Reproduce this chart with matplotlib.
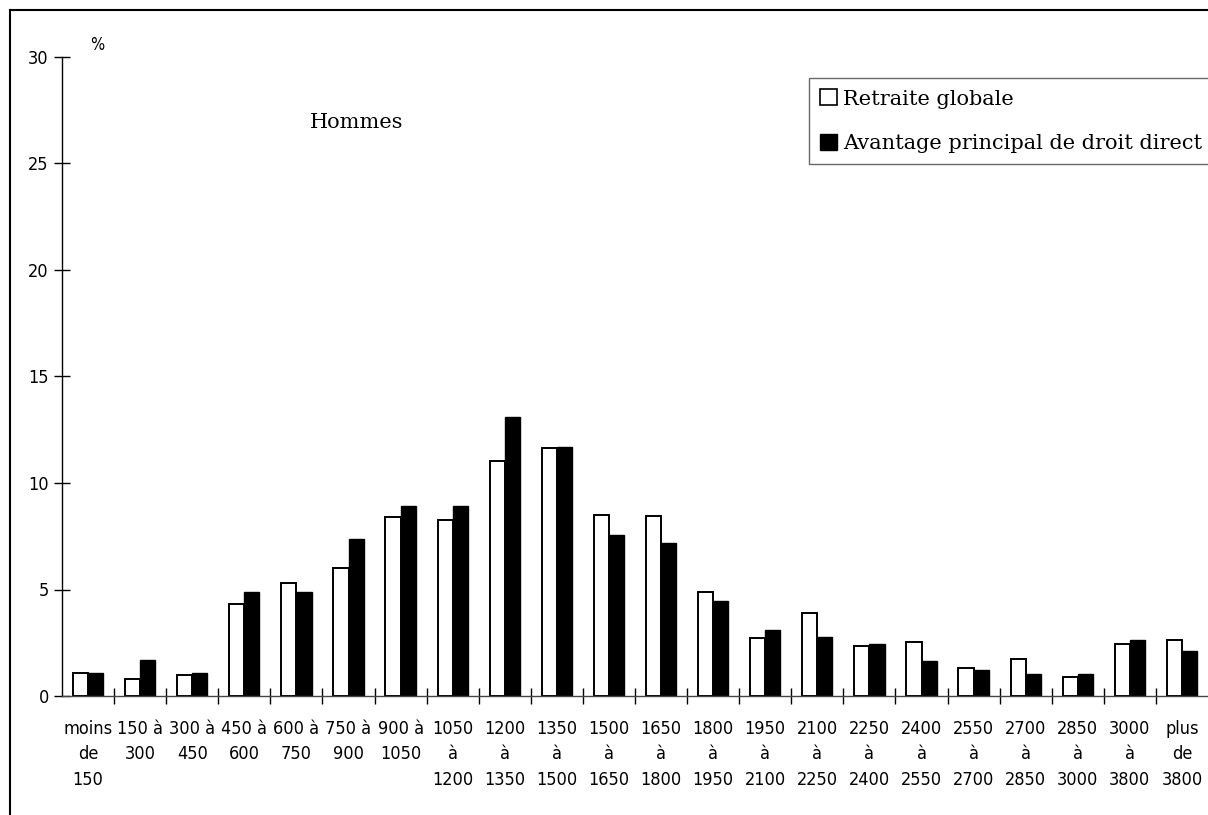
import matplotlib
matplotlib.use("Agg")
import matplotlib.pyplot as plt
import numpy as np
from matplotlib.lines import Line2D
from matplotlib.patches import Patch
from matplotlib import font_manager

# données
tranches = ["moins\nde\n150", "150 à\n300", "300 à\n450", "450 à\n600", "600 à\n750",
            "750 à\n900", "900 à\n1050", "1050\nà\n1200", "1200\nà\n1350", "1350\nà\n1500",
            "1500\nà\n1650", "1650\nà\n1800", "1800\nà\n1950", "1950\nà\n2100", "2100\nà\n2250",
            "2250\nà\n2400", "2400\nà\n2550", "2550\nà\n2700", "2700\nà\n2850", "2850\nà\n3000",
            "3000\nà\n3800", "plus\nde\n3800"]
retraite_globale = [1.1, 0.8, 1.0, 4.3, 5.3, 6.0, 8.4, 8.25, 11.05, 11.65, 8.5, 8.45,
                    4.9, 2.7, 3.9, 2.35, 2.55, 1.3, 1.75, 0.9, 2.45, 2.65]
avantage_principal = [1.1, 1.7, 1.1, 4.9, 4.9, 7.35, 8.9, 8.9, 13.1, 11.7, 7.55, 7.2,
                      4.45, 3.1, 2.75, 2.45, 1.65, 1.2, 1.05, 1.05, 2.65, 2.1]
yticks = [0, 5, 10, 15, 20, 25, 30]

# police étroite pour les graduations
narrow = font_manager.FontProperties(family="DejaVu Sans", stretch="condensed", size=13)
SERIF = ["DejaVu Serif", "Liberation Serif"]

W, H = 1208, 815
fig = plt.figure(figsize=(W / 100, H / 100), dpi=100)
ax = fig.add_axes([62 / W, 1 - 696 / H, 1 - 62 / W, (696 - 57) / H])

x = np.arange(len(tranches)) + 0.5
bw = 0.29
ax.bar(x - bw / 2, retraite_globale, width=bw, color="white", edgecolor="black", linewidth=1.4)
ax.bar(x + bw / 2, avantage_principal, width=bw, color="black", edgecolor="black", linewidth=1.0)

ax.set_xlim(0, len(tranches))
ax.set_ylim(0, 30)

for s in ["top", "right"]:
    ax.spines[s].set_visible(False)
ax.spines["left"].set_linewidth(1.0)
ax.spines["bottom"].set_linewidth(1.0)
ax.spines["bottom"].set_color("#444444")

ax.set_yticks(yticks)
ax.set_yticklabels([str(v) for v in yticks], fontproperties=narrow)
ax.tick_params(axis="y", direction="inout", length=11, width=1.0, pad=4)

ax.set_xticks(np.arange(1, len(tranches)))
ax.set_xticklabels([])
ax.tick_params(axis="x", direction="inout", length=12, width=1.0)
ax.set_xticks(x, minor=True)
ax.set_xticklabels(tranches, minor=True, fontproperties=narrow, linespacing=1.55)
ax.tick_params(axis="x", which="minor", length=0, pad=17)

pct = narrow.copy()
pct.set_size(12)
fig.text(97 / W, 1 - 45 / H, "%", fontproperties=pct, ha="center", va="center")
fig.text(310 / W, 1 - 122 / H, "Hommes", family=SERIF, fontsize=15, ha="left", va="center")

handles = [Patch(facecolor="white", edgecolor="black", linewidth=1.2),
           Patch(facecolor="black", edgecolor="black")]
leg = fig.legend(handles, ["Retraite globale", "Avantage principal de droit direct"],
                 loc="upper left", bbox_to_anchor=(809 / W, 1 - 78 / H),
                 prop={"family": SERIF, "size": 15}, frameon=True, fancybox=False,
                 edgecolor="#444444", borderpad=0.55, labelspacing=1.2,
                 handlelength=0.8, handleheight=0.8, handletextpad=0.3, borderaxespad=0)
leg.get_frame().set_linewidth(1.0)

# cadre de la figure (haut et gauche)
fig.add_artist(Line2D([10 / W, 10 / W], [0, 1 - 10 / H], color="black", linewidth=1.5))
fig.add_artist(Line2D([10 / W, 1], [1 - 10 / H, 1 - 10 / H], color="black", linewidth=1.5))

fig.savefig("out.png", dpi=100)
